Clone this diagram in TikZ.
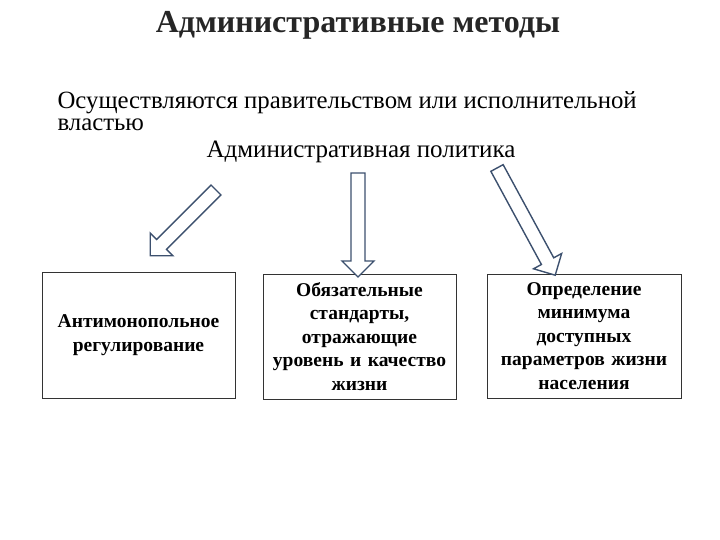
\documentclass[tikz,border=0pt]{standalone}
\usepackage{fontspec}
\setmainfont{Liberation Serif}
\begin{document}
\begin{tikzpicture}[x=1pt,y=-1pt,
  box/.style={draw=black!80!white,line width=1pt,inner sep=0pt},
  btxt/.style={font=\fontsize{19.5}{23.5}\selectfont\bfseries,align=center,text width=190pt},
  barr/.style={draw={rgb,255:red,60;green,80;blue,110},line width=1.4pt,fill=white}]
\useasboundingbox (0,0) rectangle (720,540);
\node[font=\fontsize{32}{34}\selectfont\bfseries,text=black!85] (t) at (358,25) {Административные методы};
\node[anchor=west,font=\fontsize{24.8}{22.5}\selectfont,align=left] (s) at (54,111) {Осуществляются правительством или исполнительной\\властью};
\node[font=\fontsize{25}{26}\selectfont] (p) at (361,152) {Административная политика};
\node[box,minimum width=193pt,minimum height=126pt] (b1) at (138.5,335) {};
\node[btxt] at (b1) {Антимонопольное\\регулирование};
\node[box,minimum width=193pt,minimum height=125pt] (b2) at (359.5,336.5) {};
\node[btxt] at (b2) {Обязательные\\стандарты,\\отражающие\\уровень и качество\\жизни};
\node[box,minimum width=194pt,minimum height=124pt] (b3) at (584,336) {};
\node[btxt] at (b3) {Определение\\минимума\\доступных\\параметров жизни\\населения};
\foreach \sx/\sy/\ang/\L in {216/190/-135/93, 358/173/-90/104, 497/168/-61.5/122}{
  \begin{scope}[shift={(\sx,\sy)},rotate=\ang]
    \draw[barr] (0,-7) -- (\L-16,-7) -- (\L-16,-16) -- (\L,0) -- (\L-16,16) -- (\L-16,7) -- (0,7) -- cycle;
  \end{scope}}
\end{tikzpicture}
\end{document}
